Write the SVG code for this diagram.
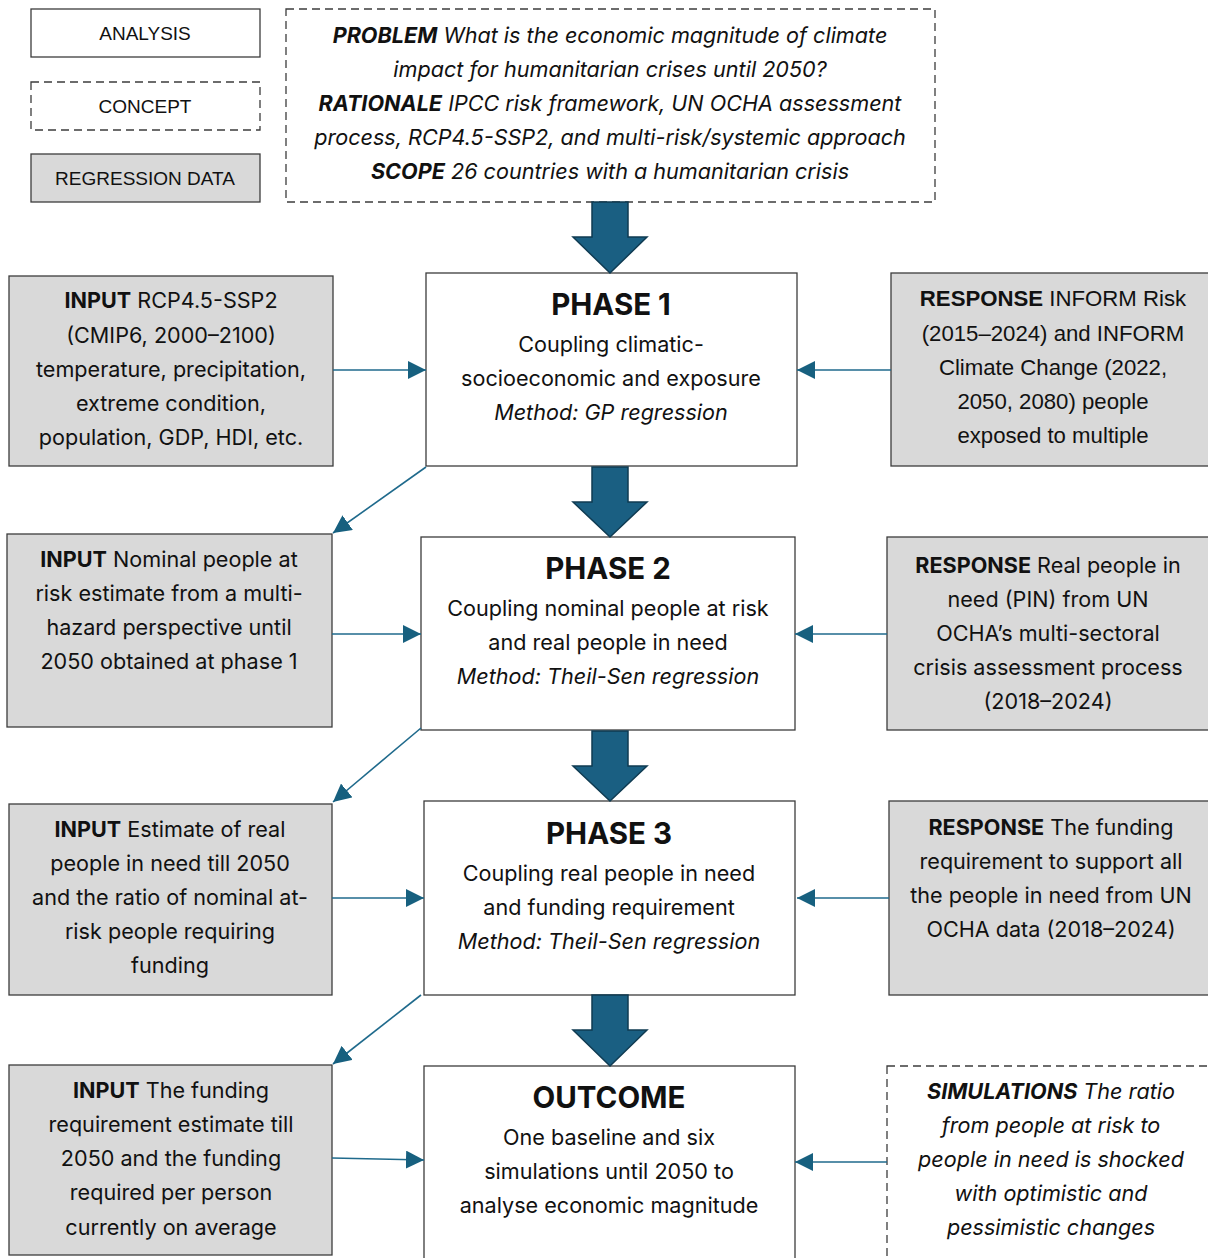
<svg xmlns="http://www.w3.org/2000/svg" width="1208" height="1258" viewBox="0 0 1208 1258">
<defs>
<style>
.box{fill:#ffffff;stroke:#3c3c3c;stroke-width:1.3}
.gray{fill:#d9d9d9;stroke:#3c3c3c;stroke-width:1.3}
.dash{fill:#ffffff;stroke:#3c3c3c;stroke-width:1.3;stroke-dasharray:8 5}
.leg{font-family:"Liberation Sans",Arial,sans-serif;font-size:19px;fill:#111;text-anchor:middle;dominant-baseline:central}
.t{font-family:Inter,"Open Sans",sans-serif;font-size:21.6px;fill:#111;text-anchor:middle;dominant-baseline:central}
.a{font-family:"Liberation Sans",Arial,sans-serif;font-size:22.2px;fill:#111;text-anchor:middle;dominant-baseline:central}
.it{font-style:italic}
.ttl{font-family:Inter,"Open Sans",sans-serif;font-size:29.5px;font-weight:bold;fill:#111;text-anchor:middle;dominant-baseline:central}
.b{font-weight:bold}
.con{stroke:#1f6a8c;stroke-width:1.6;fill:none}
.big{fill:#1a5f82;stroke:#0f3b52;stroke-width:1.5}
</style>
<marker id="ah2" viewBox="0 0 16 16" refX="16" refY="8" markerWidth="18" markerHeight="18" markerUnits="userSpaceOnUse" orient="auto">
<path d="M0,0 L16,8 L0,16 z" fill="#17607f"/>
</marker>
</defs>

<g id="legend-analysis"><rect class="box" x="31" y="9" width="229" height="48"/><text class="leg" x="145" y="33">ANALYSIS</text></g>
<g id="legend-concept"><rect class="dash" x="31" y="82" width="229" height="48"/><text class="leg" x="145" y="106">CONCEPT</text></g>
<g id="legend-regression"><rect class="gray" x="31" y="154" width="229" height="48"/><text class="leg" x="145" y="178">REGRESSION DATA</text></g>

<g id="problem">
<rect class="dash" x="286" y="9" width="649" height="193"/>
<text class="t it" x="610" y="35"><tspan class="b">PROBLEM</tspan> What is the economic magnitude of climate</text>
<text class="t it" x="610" y="69">impact for humanitarian crises until 2050?</text>
<text class="t it" x="610" y="103"><tspan class="b">RATIONALE</tspan> IPCC risk framework, UN OCHA assessment</text>
<text class="t it" x="610" y="137">process, RCP4.5-SSP2, and multi-risk/systemic approach</text>
<text class="t it" x="610" y="171"><tspan class="b">SCOPE</tspan> 26 countries with a humanitarian crisis</text>
</g>

<g id="phase1">
<rect class="box" x="426" y="273" width="371" height="193"/>
<text class="ttl" x="611" y="304">PHASE 1</text>
<text class="t" x="611" y="344">Coupling climatic-</text>
<text class="t" x="611" y="378">socioeconomic and exposure</text>
<text class="t it" x="611" y="412">Method: GP regression</text>
</g>
<g id="input1">
<rect class="gray" x="9" y="276" width="324" height="190"/>
<text class="t" x="171" y="300"><tspan class="b">INPUT</tspan> RCP4.5-SSP2</text>
<text class="t" x="171" y="335">(CMIP6, 2000–2100)</text>
<text class="t" x="171" y="369">temperature, precipitation,</text>
<text class="t" x="171" y="403">extreme condition,</text>
<text class="t" x="171" y="437">population, GDP, HDI, etc.</text>
</g>
<g id="response1">
<rect class="gray" x="891" y="273" width="320" height="193"/>
<text class="a" x="1053" y="298"><tspan class="b">RESPONSE</tspan> INFORM Risk</text>
<text class="a" x="1053" y="333">(2015–2024) and INFORM</text>
<text class="a" x="1053" y="367">Climate Change (2022,</text>
<text class="a" x="1053" y="401">2050, 2080) people</text>
<text class="a" x="1053" y="435">exposed to multiple</text>
</g>

<g id="phase2">
<rect class="box" x="421" y="537" width="374" height="193"/>
<text class="ttl" x="608" y="568">PHASE 2</text>
<text class="t" x="608" y="608">Coupling nominal people at risk</text>
<text class="t" x="608" y="642">and real people in need</text>
<text class="t it" x="608" y="676">Method: Theil-Sen regression</text>
</g>
<g id="input2">
<rect class="gray" x="7" y="534" width="325" height="193"/>
<text class="t" x="169" y="559"><tspan class="b">INPUT</tspan> Nominal people at</text>
<text class="t" x="169" y="593">risk estimate from a multi-</text>
<text class="t" x="169" y="627">hazard perspective until</text>
<text class="t" x="169" y="661">2050 obtained at phase 1</text>
</g>
<g id="response2">
<rect class="gray" x="887" y="537" width="324" height="193"/>
<text class="t" x="1048" y="565"><tspan class="b">RESPONSE</tspan> Real people in</text>
<text class="t" x="1048" y="599">need (PIN) from UN</text>
<text class="t" x="1048" y="633">OCHA’s multi-sectoral</text>
<text class="t" x="1048" y="667">crisis assessment process</text>
<text class="t" x="1048" y="701">(2018–2024)</text>
</g>

<g id="phase3">
<rect class="box" x="424" y="801" width="371" height="194"/>
<text class="ttl" x="609" y="833">PHASE 3</text>
<text class="t" x="609" y="873">Coupling real people in need</text>
<text class="t" x="609" y="907">and funding requirement</text>
<text class="t it" x="609" y="941">Method: Theil-Sen regression</text>
</g>
<g id="input3">
<rect class="gray" x="9" y="804" width="323" height="191"/>
<text class="t" x="170" y="829"><tspan class="b">INPUT</tspan> Estimate of real</text>
<text class="t" x="170" y="863">people in need till 2050</text>
<text class="t" x="170" y="897">and the ratio of nominal at-</text>
<text class="t" x="170" y="931">risk people requiring</text>
<text class="t" x="170" y="965">funding</text>
</g>
<g id="response3">
<rect class="gray" x="889" y="801" width="322" height="194"/>
<text class="t" x="1051" y="827"><tspan class="b">RESPONSE</tspan> The funding</text>
<text class="t" x="1051" y="861">requirement to support all</text>
<text class="t" x="1051" y="895">the people in need from UN</text>
<text class="t" x="1051" y="929">OCHA data (2018–2024)</text>
</g>

<g id="outcome">
<rect class="box" x="424" y="1066" width="371" height="200"/>
<text class="ttl" x="609" y="1097">OUTCOME</text>
<text class="t" x="609" y="1137">One baseline and six</text>
<text class="t" x="609" y="1171">simulations until 2050 to</text>
<text class="t" x="609" y="1205">analyse economic magnitude</text>
</g>
<g id="input4">
<rect class="gray" x="9" y="1065" width="323" height="190"/>
<text class="t" x="171" y="1090"><tspan class="b">INPUT</tspan> The funding</text>
<text class="t" x="171" y="1124">requirement estimate till</text>
<text class="t" x="171" y="1158">2050 and the funding</text>
<text class="t" x="171" y="1192">required per person</text>
<text class="t" x="171" y="1227">currently on average</text>
</g>
<g id="simulations">
<rect class="dash" x="887" y="1066" width="324" height="200"/>
<text class="t it" x="1051" y="1091"><tspan class="b">SIMULATIONS</tspan> The ratio</text>
<text class="t it" x="1051" y="1125">from people at risk to</text>
<text class="t it" x="1051" y="1159">people in need is shocked</text>
<text class="t it" x="1051" y="1193">with optimistic and</text>
<text class="t it" x="1051" y="1227">pessimistic changes</text>
</g>

<g id="connectors">
<path class="big" d="M592,202 H628 V237 H647 L610,273 L573,237 H592 Z"/>
<path class="big" d="M592,467 H628 V502 H647 L610,537 L573,502 H592 Z"/>
<path class="big" d="M592,731 H628 V766 H647 L610,801 L573,766 H592 Z"/>
<path class="big" d="M592,995 H628 V1030 H647 L610,1066 L573,1030 H592 Z"/>
<line class="con" x1="333" y1="370" x2="426" y2="370" marker-end="url(#ah2)"/>
<line class="con" x1="891" y1="370" x2="797" y2="370" marker-end="url(#ah2)"/>
<line class="con" x1="426" y1="467" x2="333" y2="533" marker-end="url(#ah2)"/>
<line class="con" x1="332" y1="634" x2="421" y2="634" marker-end="url(#ah2)"/>
<line class="con" x1="887" y1="634" x2="795" y2="634" marker-end="url(#ah2)"/>
<line class="con" x1="421" y1="728" x2="333" y2="802" marker-end="url(#ah2)"/>
<line class="con" x1="332" y1="898" x2="424" y2="898" marker-end="url(#ah2)"/>
<line class="con" x1="889" y1="898" x2="797" y2="898" marker-end="url(#ah2)"/>
<line class="con" x1="421" y1="995" x2="333" y2="1064" marker-end="url(#ah2)"/>
<line class="con" x1="332" y1="1158" x2="424" y2="1160" marker-end="url(#ah2)"/>
<line class="con" x1="887" y1="1162" x2="795" y2="1162" marker-end="url(#ah2)"/>
</g>
</svg>
